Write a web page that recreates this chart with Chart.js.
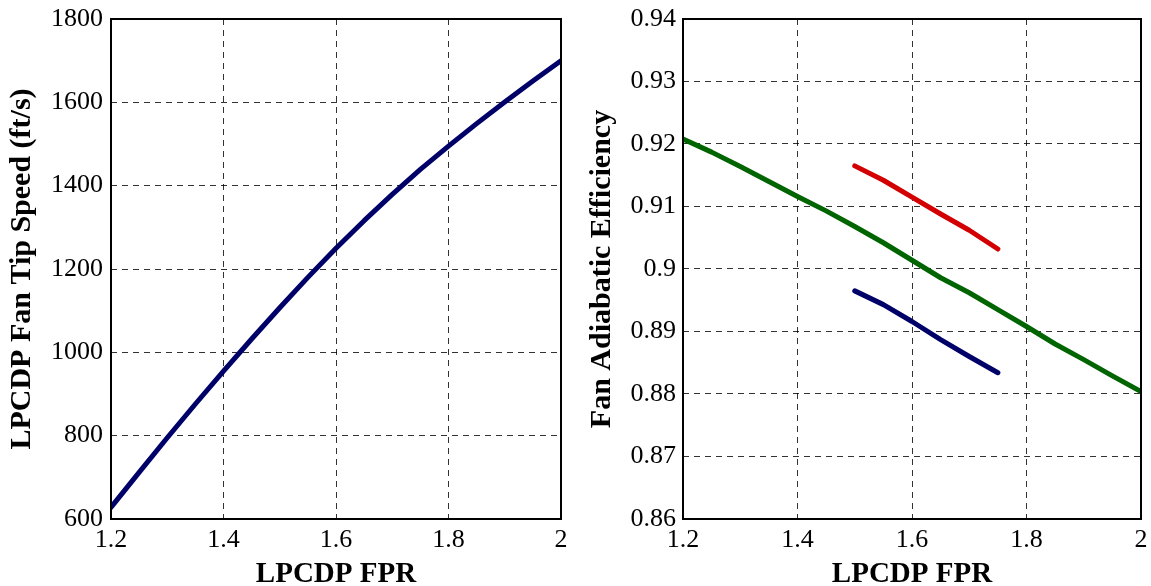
<!DOCTYPE html>
<html>
<head>
<meta charset="utf-8">
<script src="https://cdn.jsdelivr.net/npm/chart.js@4/dist/chart.umd.min.js"></script>
<style>
    body { margin: 0; background: #fff; overflow: hidden; }
    canvas { position: absolute; top: 0; }
    #speed { left: 0; }
    #eff { left: 575px; }
</style>
</head>
<body>
<canvas id="speed" width="575" height="586"></canvas>
<canvas id="eff" width="576" height="586"></canvas>
<script>
// datos
const fpr = [1.2, 1.25, 1.3, 1.35, 1.4, 1.45, 1.5, 1.55, 1.6, 1.65, 1.7, 1.75, 1.8, 1.85, 1.9, 1.95, 2.0];
const tipSpeed = [628, 712, 795, 876, 955, 1032, 1107, 1180, 1250, 1316, 1379, 1439, 1495, 1549, 1601, 1651, 1700];

const effFpr = [1.2, 1.25, 1.3, 1.35, 1.4, 1.45, 1.5, 1.55, 1.6, 1.65, 1.7, 1.75, 1.8, 1.85, 1.9, 1.95, 2.0];
const effMain = [0.9208, 0.9187, 0.9164, 0.9140, 0.9116, 0.9093, 0.9068, 0.9042, 0.9014, 0.8986, 0.8962, 0.8935, 0.8908, 0.8880, 0.8855, 0.8829, 0.8804];

const subFpr = [1.5, 1.55, 1.6, 1.65, 1.7, 1.75];
const effHigh = [0.9165, 0.9142, 0.9115, 0.9088, 0.9062, 0.9032];
const effLow = [0.8965, 0.8943, 0.8916, 0.8887, 0.8860, 0.8834];

const xTicks = [1.2, 1.4, 1.6, 1.8, 2];
const speedTicks = [600, 800, 1000, 1200, 1400, 1600, 1800];
const effTicks = [0.86, 0.87, 0.88, 0.89, 0.9, 0.91, 0.92, 0.93, 0.94];

const serif = "'Liberation Serif', 'Times New Roman', serif";

const boxPlugin = {
    id: 'box',
    afterDraw(chart) {
        const {ctx, chartArea: a} = chart;
        ctx.save();
        ctx.strokeStyle = '#000';
        ctx.lineWidth = 2;
        ctx.strokeRect(a.left, a.top, a.right - a.left, a.bottom - a.top);
        ctx.restore();
    }
};

function toPoints(xs, ys) {
    return xs.map((x, i) => ({x: x, y: ys[i]}));
}

function serie(xs, ys, color) {
    return {
        data: toPoints(xs, ys),
        borderColor: color,
        backgroundColor: color,
        borderWidth: 5,
        borderCapStyle: 'round',
        borderJoinStyle: 'round',
        pointRadius: 0,
        tension: 0,
        fill: false
    };
}

function axes(yTicks, cfg) {
    const grid = {
        color: 'rgba(0,0,0,0.8)',
        lineWidth: 1,
        drawTicks: false
    };
    return {
        x: {
            type: 'linear',
            min: 1.2,
            max: 2,
            afterBuildTicks: s => { s.ticks = xTicks.map(v => ({value: v})); },
            afterFit: s => {
                s.height = 67;
                s.paddingLeft = 0;
                s.paddingRight = 0;
            },
            grid: grid,
            border: {display: false, dash: [6, 5]},
            ticks: {
                color: '#000',
                padding: 8,
                maxRotation: 0,
                autoSkip: false,
                font: {family: serif, size: 26, lineHeight: 1},
                callback: v => String(v)
            },
            title: {
                display: true,
                text: 'LPCDP FPR',
                color: '#000',
                padding: 0,
                font: {family: serif, size: 29, weight: 'bold', lineHeight: 0.8}
            }
        },
        y: {
            type: 'linear',
            min: yTicks[0],
            max: yTicks[yTicks.length - 1],
            afterBuildTicks: s => { s.ticks = yTicks.map(v => ({value: v})); },
            afterFit: s => {
                s.width = cfg.axisWidth;
                s.paddingTop = 0;
                s.paddingBottom = 0;
            },
            grid: grid,
            border: {display: false, dash: [6, 5]},
            ticks: {
                color: '#000',
                padding: cfg.tickPad,
                autoSkip: false,
                font: {family: serif, size: 26, lineHeight: 1},
                callback: v => String(v)
            },
            title: {
                display: true,
                text: cfg.title,
                color: '#000',
                padding: {top: cfg.titlePad, bottom: 0},
                font: {family: serif, size: 30, weight: 'bold', lineHeight: 0.8}
            }
        }
    };
}

function drawChart(id, datasets, yTicks, cfg) {
    return new Chart(document.getElementById(id).getContext('2d'), {
        type: 'line',
        data: {datasets: datasets},
        options: {
            responsive: false,
            animation: false,
            devicePixelRatio: 1,
            layout: {padding: {top: 19, right: cfg.rightPad, bottom: 0, left: 0}},
            plugins: {legend: {display: false}, tooltip: {enabled: false}},
            scales: axes(yTicks, cfg)
        },
        plugins: [boxPlugin]
    });
}

document.addEventListener('DOMContentLoaded', () => {
    drawChart('speed', [serie(fpr, tipSpeed, 'rgb(0,0,105)')], speedTicks, {
        axisWidth: 111, tickPad: 8, titlePad: 10, rightPad: 14,
        title: 'LPCDP Fan Tip Speed (ft/s)'
    });
    drawChart('eff', [
        serie(effFpr, effMain, 'rgb(0,100,0)'),
        serie(subFpr, effHigh, 'rgb(210,0,0)'),
        serie(subFpr, effLow, 'rgb(0,0,105)')
    ], effTicks, {
        axisWidth: 108, tickPad: 7, titlePad: 15, rightPad: 10,
        title: 'Fan Adiabatic Efficiency'
    });
});
</script>
</body>
</html>
